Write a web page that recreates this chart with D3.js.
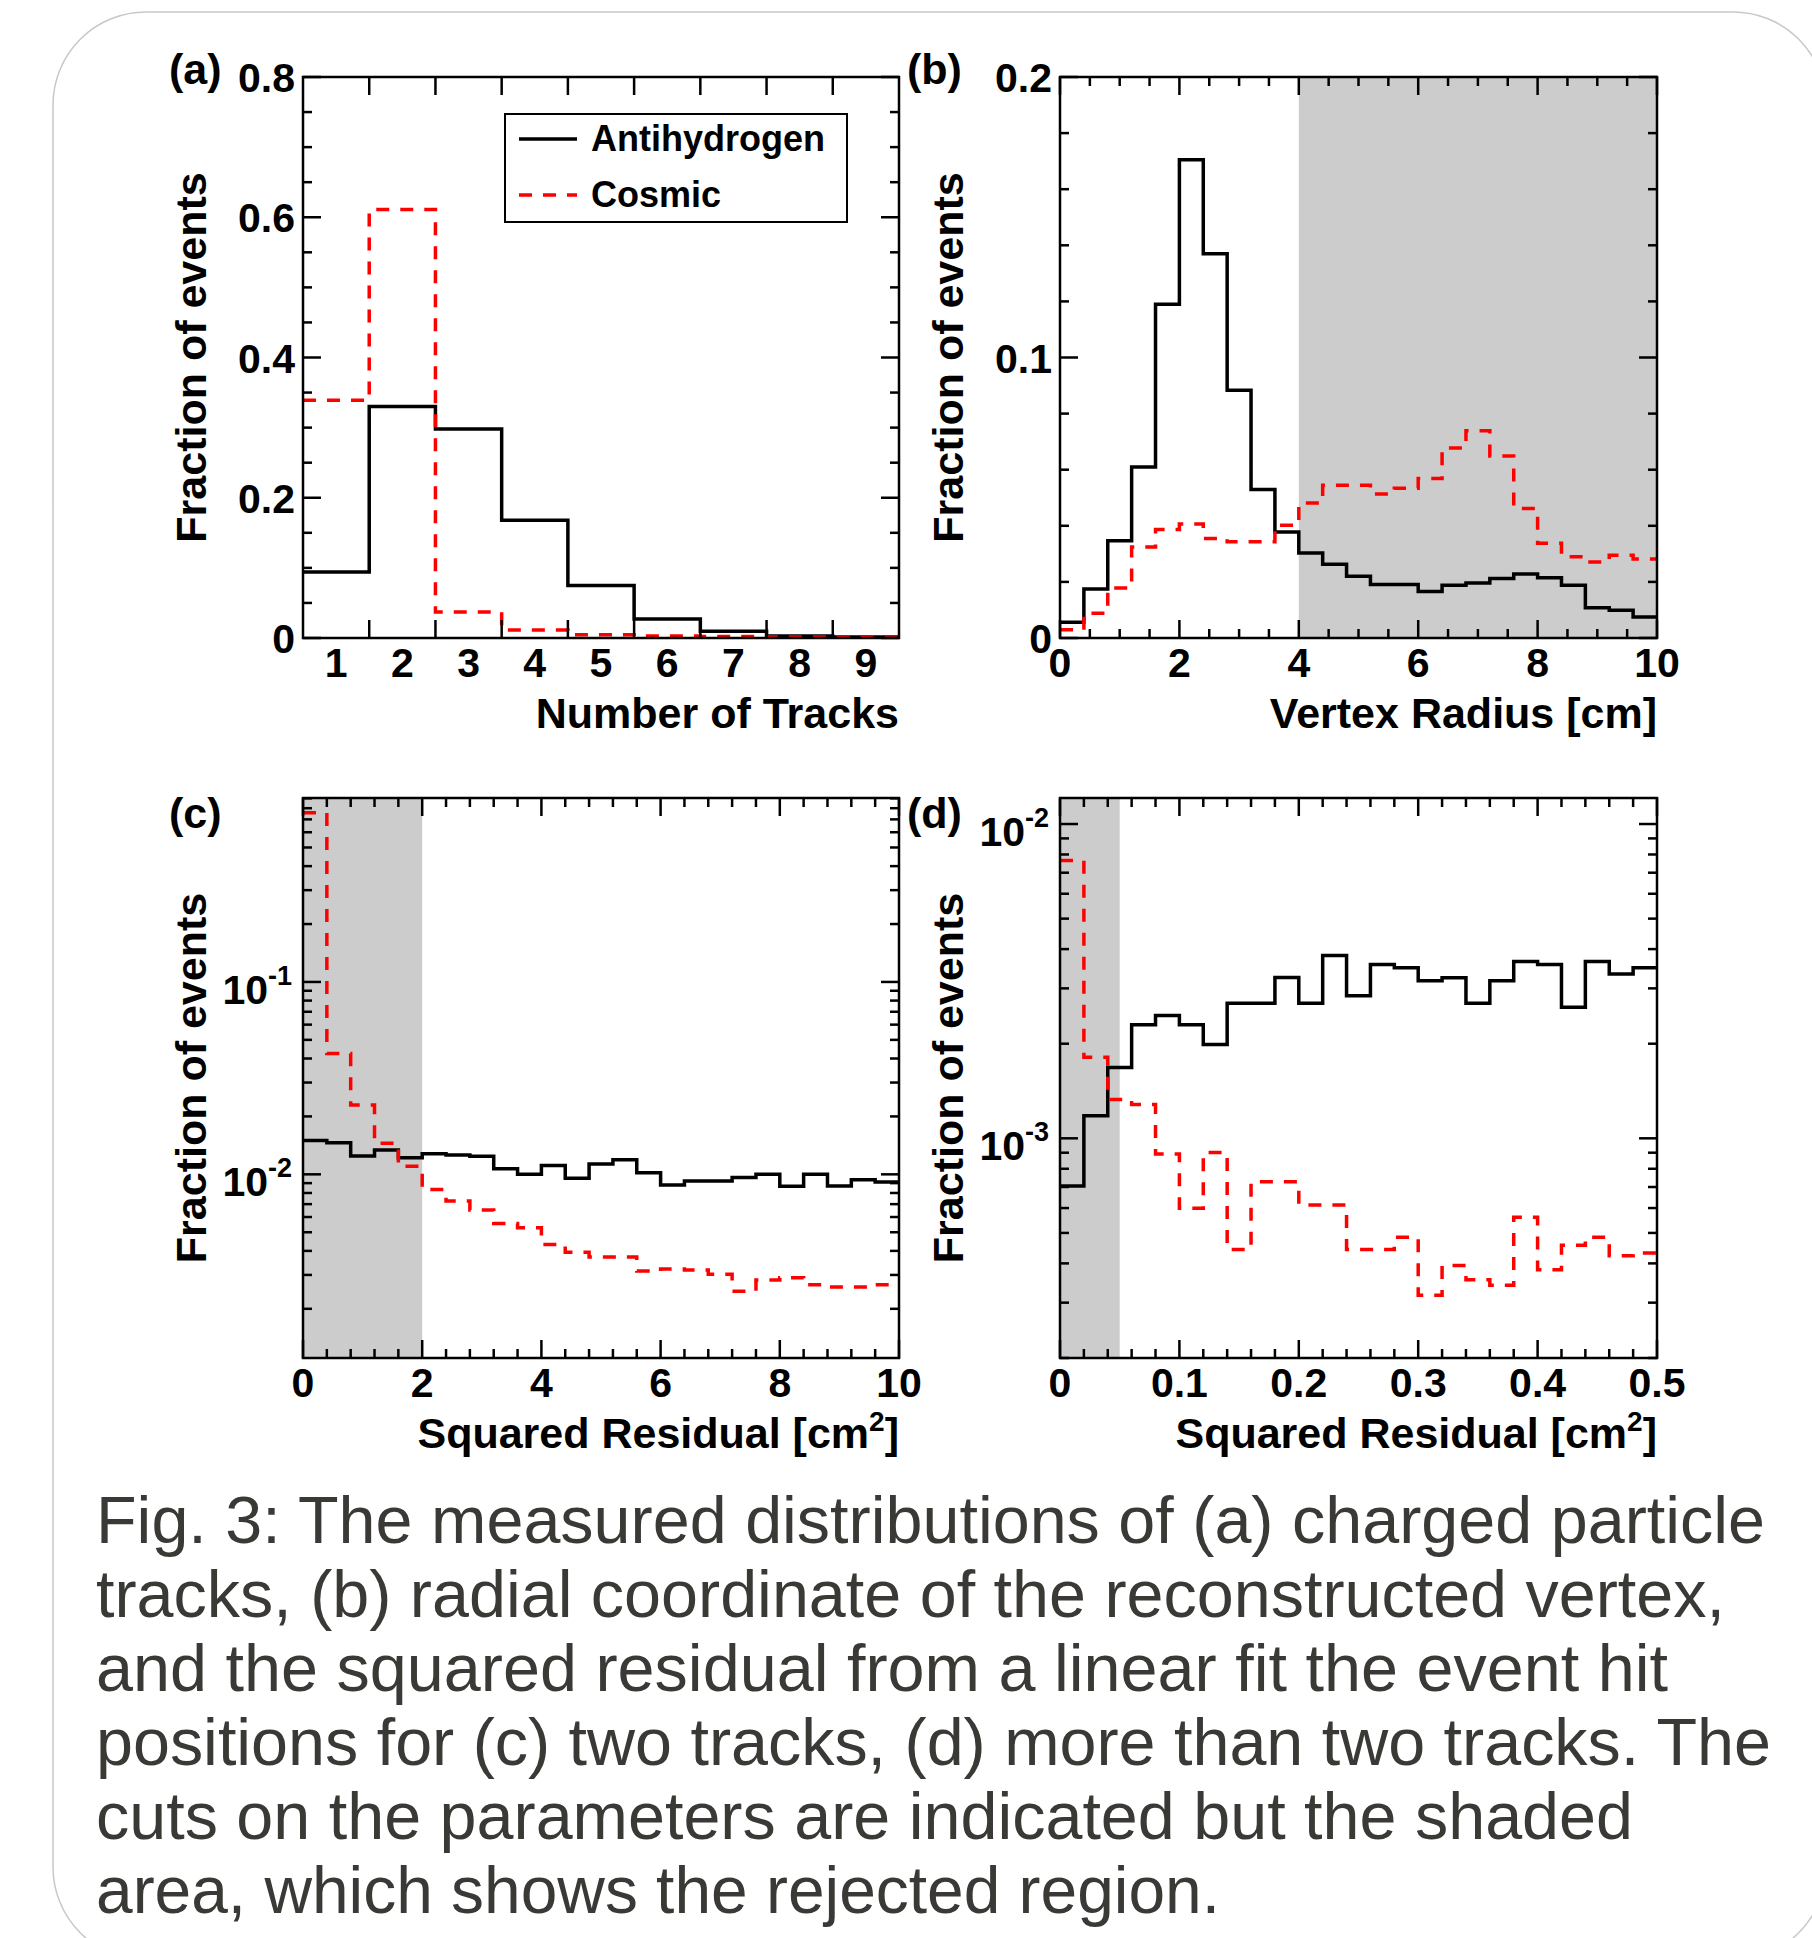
<!DOCTYPE html>
<html>
<head>
<meta charset="utf-8">
<script src="https://cdn.jsdelivr.net/npm/d3@7"></script>
<style>
  body { margin: 0; background: #fff; }
</style>
</head>
<body>
<div id="chart"></div>
<script>
// (a) number of tracks, one bin per track count
const trackLabels = [1, 2, 3, 4, 5, 6, 7, 8, 9];
const tracksAntiH = [0.094, 0.330, 0.298, 0.168, 0.075, 0.027, 0.0096, 0.003, 0.0013];
const tracksCosmic = [0.339, 0.611, 0.037, 0.0115, 0.0045, 0.003, 0.002, 0.0015, 0.0012];

// (b) vertex radius, 25 bins of 0.4 cm
const radiusBin = 0.4;
const radiusAntiH = [0.0056, 0.0175, 0.0347, 0.061, 0.119, 0.1705, 0.137, 0.0883, 0.0529, 0.0378,
  0.0303, 0.0263, 0.022, 0.0191, 0.0191, 0.0166, 0.0188, 0.0196, 0.0212, 0.0228,
  0.0215, 0.0188, 0.0108, 0.0099, 0.0075];
const radiusCosmic = [0.0029, 0.0088, 0.0178, 0.0324, 0.0387, 0.0406, 0.0355, 0.0343, 0.0343, 0.0402,
  0.0481, 0.0545, 0.0545, 0.0513, 0.0534, 0.0569, 0.0677, 0.0739, 0.0649, 0.0462,
  0.0338, 0.029, 0.0271, 0.0295, 0.0282];

// (c) squared residual, two tracks, 25 bins of 0.4 cm^2
const resid2Bin = 0.4;
const resid2AntiH = [0.0150, 0.0146, 0.01245, 0.0134, 0.0122, 0.0128, 0.0126, 0.0124, 0.0107, 0.0100,
  0.0111, 0.00953, 0.0113, 0.0119, 0.0102, 0.0088, 0.00923, 0.00923, 0.00963, 0.0100,
  0.00866, 0.0100, 0.0087, 0.00938, 0.00913];
const resid2Cosmic = [0.757, 0.0425, 0.0229, 0.0145, 0.0110, 0.00834, 0.00726, 0.00652, 0.00556, 0.00527,
  0.00432, 0.00393, 0.00372, 0.00372, 0.00314, 0.00322, 0.00318, 0.00302, 0.00247, 0.00282,
  0.0029, 0.00267, 0.0026, 0.0026, 0.00267];

// (d) squared residual, more than two tracks, 25 bins of 0.02 cm^2
const residNBin = 0.02;
const residNAntiH = [0.000705, 0.00118, 0.00168, 0.0023, 0.00246, 0.0023, 0.00199, 0.00269, 0.00269, 0.00325,
  0.00269, 0.00382, 0.00284, 0.00357, 0.00349, 0.00317, 0.00324, 0.00269, 0.00317, 0.00365,
  0.00357, 0.00261, 0.00365, 0.00333, 0.00349];
const residNCosmic = [0.00765, 0.00181, 0.00133, 0.00128, 0.000892, 0.000599, 0.000901, 0.000443, 0.000728, 0.000728,
  0.000613, 0.000613, 0.000443, 0.000443, 0.000484, 0.000317, 0.000394, 0.000355, 0.000341, 0.000561,
  0.000382, 0.000457, 0.000484, 0.000423, 0.000432];

const legendLabels = ["Antihydrogen", "Cosmic"];

const captionLines = [
  "Fig. 3: The measured distributions of (a) charged particle",
  "tracks, (b) radial coordinate of the reconstructed vertex,",
  "and the squared residual from a linear fit the event hit",
  "positions for (c) two tracks, (d) more than two tracks. The",
  "cuts on the parameters are indicated but the shaded",
  "area, which shows the rejected region."
];
const captionWidths = [1669, 1629, 1572, 1675, 1537, 1124];

const width = 1812;
const height = 1938;
const font = "'Liberation Sans', Arial, Helvetica, sans-serif";

const svg = d3.select("#chart")
  .append("svg")
  .attr("width", width)
  .attr("height", height)
  .style("font-family", font);

// rounded card
svg.append("rect")
  .attr("x", 53).attr("y", 12)
  .attr("width", 1773).attr("height", 1948)
  .attr("rx", 93).attr("ry", 93)
  .attr("fill", "#fff")
  .attr("stroke", "#c8c8c8")
  .attr("stroke-width", 1.5);

const edgesFrom = (start, w, n) => d3.range(n + 1).map(i => +(start + i * w).toFixed(6));

function drawPanel(cfg) {
  const f = cfg.frame;
  const g = svg.append("g");

  const x = d3.scaleLinear().domain(cfg.xDomain).range([f.left, f.right]);
  const y = (cfg.log ? d3.scaleLog() : d3.scaleLinear()).domain(cfg.yDomain).range([f.bottom, f.top]);

  if (cfg.shade) {
    g.append("rect")
      .attr("x", x(cfg.shade[0]))
      .attr("y", f.top)
      .attr("width", x(cfg.shade[1]) - x(cfg.shade[0]))
      .attr("height", f.bottom - f.top)
      .attr("fill", "#cccccc");
  }

  const stepPath = vals => {
    const p = d3.path();
    p.moveTo(x(cfg.edges[0]), y(vals[0]));
    vals.forEach((v, i) => {
      p.lineTo(x(cfg.edges[i]), y(v));
      p.lineTo(x(cfg.edges[i + 1]), y(v));
    });
    return p.toString();
  };

  g.append("path")
    .attr("d", stepPath(cfg.antiH))
    .attr("fill", "none")
    .attr("stroke", "#000")
    .attr("stroke-width", 3.5);

  g.append("path")
    .attr("d", stepPath(cfg.cosmic))
    .attr("fill", "none")
    .attr("stroke", "#ff0000")
    .attr("stroke-width", 3.5)
    .attr("stroke-dasharray", "13,11");

  // ticks on all four sides, pointing inward
  const major = 18, minor = 9;
  const tk = g.append("g").attr("stroke", "#000").attr("stroke-width", 2.5);
  cfg.xTicks.forEach(t => {
    const len = t.major ? major : minor;
    tk.append("line").attr("x1", x(t.v)).attr("x2", x(t.v)).attr("y1", f.bottom).attr("y2", f.bottom - len);
    tk.append("line").attr("x1", x(t.v)).attr("x2", x(t.v)).attr("y1", f.top).attr("y2", f.top + len);
  });
  cfg.yTicks.forEach(t => {
    const len = t.major ? major : minor;
    tk.append("line").attr("y1", y(t.v)).attr("y2", y(t.v)).attr("x1", f.left).attr("x2", f.left + len);
    tk.append("line").attr("y1", y(t.v)).attr("y2", y(t.v)).attr("x1", f.right).attr("x2", f.right - len);
  });

  // frame
  g.append("rect")
    .attr("x", f.left).attr("y", f.top)
    .attr("width", f.right - f.left).attr("height", f.bottom - f.top)
    .attr("fill", "none")
    .attr("stroke", "#000")
    .attr("stroke-width", 2.5);

  // x tick labels
  cfg.xLabels.forEach(l => {
    g.append("text")
      .attr("x", x(l.v)).attr("y", f.bottom + 39)
      .attr("text-anchor", "middle")
      .style("font-size", "41px").style("font-weight", "bold")
      .text(l.t);
  });

  // y tick labels
  cfg.yLabels.forEach(l => {
    if (cfg.log) {
      const t = g.append("text")
        .attr("x", f.left - 11).attr("y", y(l.v) + 22)
        .attr("text-anchor", "end")
        .style("font-size", "41px").style("font-weight", "bold");
      t.append("tspan").text("10");
      t.append("tspan").attr("dy", -19).style("font-size", "27px").text(l.t);
    } else {
      g.append("text")
        .attr("x", f.left - 8).attr("y", y(l.v) + 15)
        .attr("text-anchor", "end")
        .style("font-size", "41px").style("font-weight", "bold")
        .text(l.t);
    }
  });

  // x title
  const xt = g.append("text")
    .attr("x", f.right).attr("y", f.bottom + 90)
    .attr("text-anchor", "end")
    .style("font-size", "43px").style("font-weight", "bold");
  xt.append("tspan").text(cfg.xTitle[0]);
  if (cfg.xTitle.length > 1) {
    xt.append("tspan").attr("dy", -17).style("font-size", "28px").text(cfg.xTitle[1]);
    xt.append("tspan").attr("dy", 17).text(cfg.xTitle[2]);
  }

  // y title
  g.append("text")
    .attr("transform", `translate(${f.left - 97},${(f.top + f.bottom) / 2}) rotate(-90)`)
    .attr("text-anchor", "middle")
    .style("font-size", "43px").style("font-weight", "bold")
    .text("Fraction of events");

  // panel letter
  g.append("text")
    .attr("x", cfg.letterX).attr("y", cfg.letterY)
    .style("font-size", "43px").style("font-weight", "bold")
    .text(cfg.letter);

  return { x, y };
}

const linTicks = (lo, hi, majorStep, minorStep) =>
  d3.range(Math.round((hi - lo) / minorStep) + 1).map(i => {
    const v = +(lo + i * minorStep).toFixed(6);
    const r = (v - lo) / majorStep;
    return { v, major: Math.abs(r - Math.round(r)) < 1e-6 };
  });

const logTicks = dom => d3.scaleLog().domain(dom).ticks().map(v => {
  const e = Math.log10(v);
  return { v, major: Math.abs(e - Math.round(e)) < 1e-6 };
});

const fmt = d3.format("~g");

// (a)
const trackEdges = edgesFrom(trackLabels[0] - 0.5, 1, trackLabels.length);
drawPanel({
  frame: { left: 303, top: 77, right: 899, bottom: 638 },
  xDomain: [trackEdges[0], trackEdges[trackEdges.length - 1]],
  yDomain: [0, 0.8],
  edges: trackEdges,
  antiH: tracksAntiH,
  cosmic: tracksCosmic,
  xTicks: trackEdges.slice(1, -1).map(v => ({ v, major: true })),
  yTicks: linTicks(0, 0.8, 0.2, 0.05),
  xLabels: trackLabels.map(v => ({ v, t: String(v) })),
  yLabels: [0, 0.2, 0.4, 0.6, 0.8].map(v => ({ v, t: fmt(v) })),
  xTitle: ["Number of Tracks"],
  letter: "(a)",
  letterX: 169,
  letterY: 84
});

// legend in (a)
const lg = svg.append("g");
lg.append("rect")
  .attr("x", 505).attr("y", 114).attr("width", 342).attr("height", 108)
  .attr("fill", "#fff").attr("stroke", "#000").attr("stroke-width", 2);
legendLabels.forEach((name, i) => {
  const ly = [139, 195][i];
  lg.append("line")
    .attr("x1", 519).attr("x2", 577).attr("y1", ly).attr("y2", ly)
    .attr("stroke", i === 0 ? "#000" : "#ff0000")
    .attr("stroke-width", 3.5)
    .attr("stroke-dasharray", i === 0 ? null : "13,11");
  lg.append("text")
    .attr("x", 591).attr("y", ly + 12)
    .style("font-size", "36px").style("font-weight", "bold")
    .text(name);
});

// (b)
drawPanel({
  frame: { left: 1060, top: 77, right: 1657, bottom: 638 },
  xDomain: [0, 10],
  yDomain: [0, 0.2],
  edges: edgesFrom(0, radiusBin, radiusAntiH.length),
  antiH: radiusAntiH,
  cosmic: radiusCosmic,
  shade: [4, 10],
  xTicks: linTicks(0, 10, 2, 0.5),
  yTicks: linTicks(0, 0.2, 0.1, 0.02),
  xLabels: [0, 2, 4, 6, 8, 10].map(v => ({ v, t: fmt(v) })),
  yLabels: [0, 0.1, 0.2].map(v => ({ v, t: fmt(v) })),
  xTitle: ["Vertex Radius [cm]"],
  letter: "(b)",
  letterX: 907,
  letterY: 84
});

// (c)
const cDom = [0.00111, 0.904];
drawPanel({
  frame: { left: 303, top: 798, right: 899, bottom: 1358 },
  xDomain: [0, 10],
  yDomain: cDom,
  log: true,
  edges: edgesFrom(0, resid2Bin, resid2AntiH.length),
  antiH: resid2AntiH,
  cosmic: resid2Cosmic,
  shade: [0, 2],
  xTicks: linTicks(0, 10, 2, 0.4),
  yTicks: logTicks(cDom),
  xLabels: [0, 2, 4, 6, 8, 10].map(v => ({ v, t: fmt(v) })),
  yLabels: [{ v: 0.1, t: "-1" }, { v: 0.01, t: "-2" }],
  xTitle: ["Squared Residual [cm", "2", "]"],
  letter: "(c)",
  letterX: 169,
  letterY: 828
});

// (d)
const dDom = [0.0002, 0.0121];
drawPanel({
  frame: { left: 1060, top: 798, right: 1657, bottom: 1358 },
  xDomain: [0, 0.5],
  yDomain: dDom,
  log: true,
  edges: edgesFrom(0, residNBin, residNAntiH.length),
  antiH: residNAntiH,
  cosmic: residNCosmic,
  shade: [0, 0.05],
  xTicks: linTicks(0, 0.5, 0.1, 0.02),
  yTicks: logTicks(dDom),
  xLabels: [0, 0.1, 0.2, 0.3, 0.4, 0.5].map(v => ({ v, t: fmt(v) })),
  yLabels: [{ v: 0.01, t: "-2" }, { v: 0.001, t: "-3" }],
  xTitle: ["Squared Residual [cm", "2", "]"],
  letter: "(d)",
  letterX: 907,
  letterY: 828
});

// caption
captionLines.forEach((line, i) => {
  svg.append("text")
    .attr("x", 96)
    .attr("y", 1543 + i * 74)
    .attr("textLength", captionWidths[i])
    .attr("lengthAdjust", "spacingAndGlyphs")
    .style("font-size", "66px")
    .style("fill", "#3a3935")
    .text(line);
});
</script>
</body>
</html>
